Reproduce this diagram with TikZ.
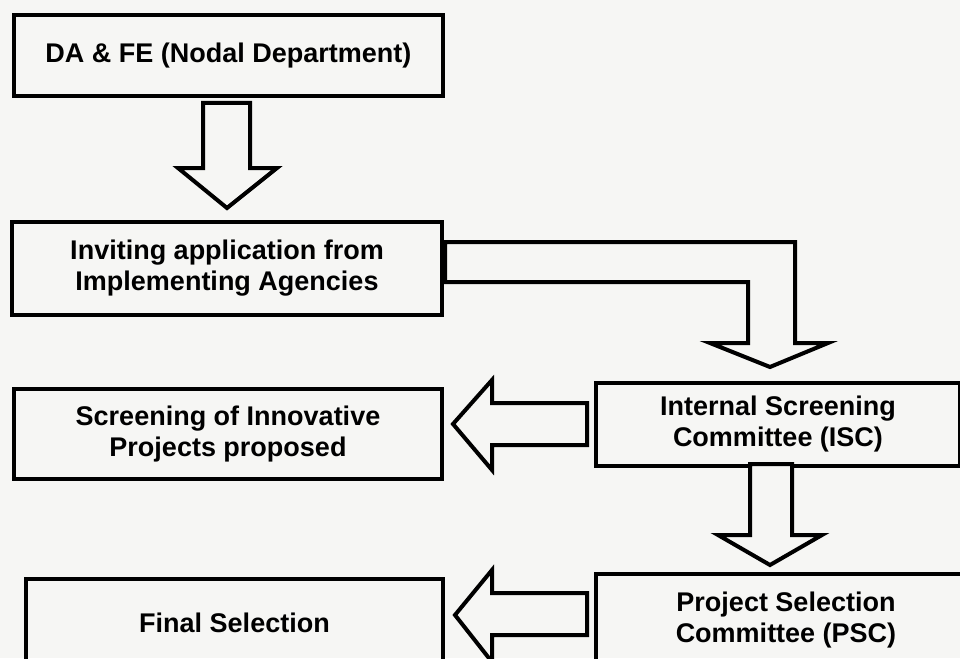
\documentclass[tikz,border=0pt]{standalone}
\usepackage{fontspec}
\setmainfont{Liberation Sans}
\definecolor{paper}{RGB}{246,246,244}
\begin{document}
\begin{tikzpicture}[x=1pt,y=-1pt,
  box/.style={draw=black, line width=4pt, inner sep=0pt, align=center,
    font=\bfseries\fontsize{27}{31}\selectfont, anchor=north west},
  barrow/.style={draw=black, line width=4pt, line join=miter, fill=paper}]
\fill[paper] (0,0) rectangle (960,658);
\useasboundingbox (0,0) rectangle (960,658);
\clip (0,0) rectangle (960,658);
% boxes
\node[box, minimum width=429pt, minimum height=81pt] (nodal) at (12,13) {DA \& FE (Nodal Department)};
\node[box, minimum width=430pt, minimum height=93pt] (invite) at (10,220) {Inviting application from\\Implementing Agencies};
\node[box, minimum width=428pt, minimum height=90pt] (screen) at (12,387) {Screening of Innovative\\Projects proposed};
\node[box, minimum width=364pt, minimum height=83pt] (isc) at (594,381) {Internal Screening\\Committee (ISC)};
\node[box, minimum width=417pt, minimum height=88pt] (final) at (24,577) {Final Selection};
\node[box, minimum width=380pt, minimum height=92pt] (psc) at (594,572) {Project Selection\\Committee (PSC)};
% down arrow nodal -> invite
\draw[barrow] (203,103) -- (250,103) -- (250,168) -- (277,168) -- (227,208) -- (178,168) -- (203,168) -- cycle;
% bent arrow invite -> isc
\draw[barrow] (445,242) -- (795,242) -- (795,343) -- (828,343) -- (770,367) -- (710,343) -- (748,343) -- (748,282) -- (445,282) -- cycle;
% left arrow isc -> screen
\draw[barrow] (587,403) -- (587,445) -- (492,445) -- (492,470) -- (453,424) -- (492,380) -- (492,403) -- cycle;
% down arrow isc -> psc
\draw[barrow] (750,464) -- (792,464) -- (792,535) -- (822,535) -- (770,565) -- (718,535) -- (750,535) -- cycle;
% left arrow psc -> final
\draw[barrow] (587,593) -- (587,635) -- (492,635) -- (492,662) -- (455,615) -- (492,570) -- (492,593) -- cycle;
\end{tikzpicture}
\end{document}
